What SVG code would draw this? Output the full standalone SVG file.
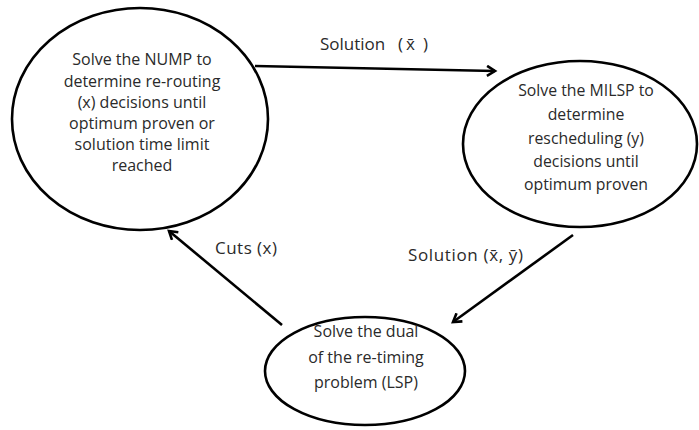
<svg xmlns="http://www.w3.org/2000/svg" width="699" height="430" viewBox="0 0 699 430">
<style>
.node{fill:#fff;stroke:#000;stroke-width:2.6}
.t{font-family:"Open Sans","Liberation Sans",sans-serif;font-size:16px;fill:#2a2a2a;text-anchor:middle}
.r{font-size:15.8px}
.lbl{font-family:"Open Sans","Liberation Sans",sans-serif;font-size:17px;fill:#2a2a2a}
.edge{stroke:#000;stroke-width:2.6;fill:none;marker-end:url(#ah)}
</style>
<defs>
<marker id="ah" markerWidth="12" markerHeight="12" refX="9" refY="6" orient="auto" markerUnits="userSpaceOnUse">
<path d="M1,1 L9,6 L1,11" fill="none" stroke="#000" stroke-width="2.6"/>
</marker>
</defs>
<rect width="699" height="430" fill="#fff"/>
<g id="connectors">
<line class="edge" x1="255" y1="66" x2="495" y2="71"/>
<line class="edge" x1="573" y1="235" x2="453" y2="322"/>
<line class="edge" x1="282" y1="325" x2="169" y2="231"/>
</g>
<g id="nump">
<ellipse class="node" cx="140" cy="119" rx="128" ry="111"/>
<text class="t" x="142" y="65">Solve the NUMP to</text>
<text class="t" x="142" y="87">determine re-routing</text>
<text class="t" x="142" y="108">(x) decisions until</text>
<text class="t" x="142" y="129">optimum proven or</text>
<text class="t" x="142" y="150">solution time limit</text>
<text class="t" x="142" y="171">reached</text>
</g>
<g id="milsp">
<ellipse class="node" cx="580" cy="144" rx="117" ry="83"/>
<text class="t r" x="586" y="96">Solve the MILSP to</text>
<text class="t r" x="586" y="120">determine</text>
<text class="t r" x="586" y="144">rescheduling (y)</text>
<text class="t r" x="586" y="167">decisions until</text>
<text class="t r" x="586" y="190">optimum proven</text>
</g>
<g id="lsp">
<ellipse class="node" cx="365" cy="371" rx="100" ry="54"/>
<text class="t" x="366" y="337">Solve the dual</text>
<text class="t" x="366" y="363">of the re-timing</text>
<text class="t" x="366" y="388">problem (LSP)</text>
</g>
<g id="labels">
<text class="lbl" y="50"><tspan x="320">Solution</tspan><tspan x="398">(</tspan><tspan x="406">x̄</tspan><tspan x="423">)</tspan></text>
<text class="lbl" x="215" y="254" textLength="62">Cuts (x)</text>
<text class="lbl" x="408" y="261" textLength="115">Solution (x̄, ȳ)</text>
</g>
</svg>
